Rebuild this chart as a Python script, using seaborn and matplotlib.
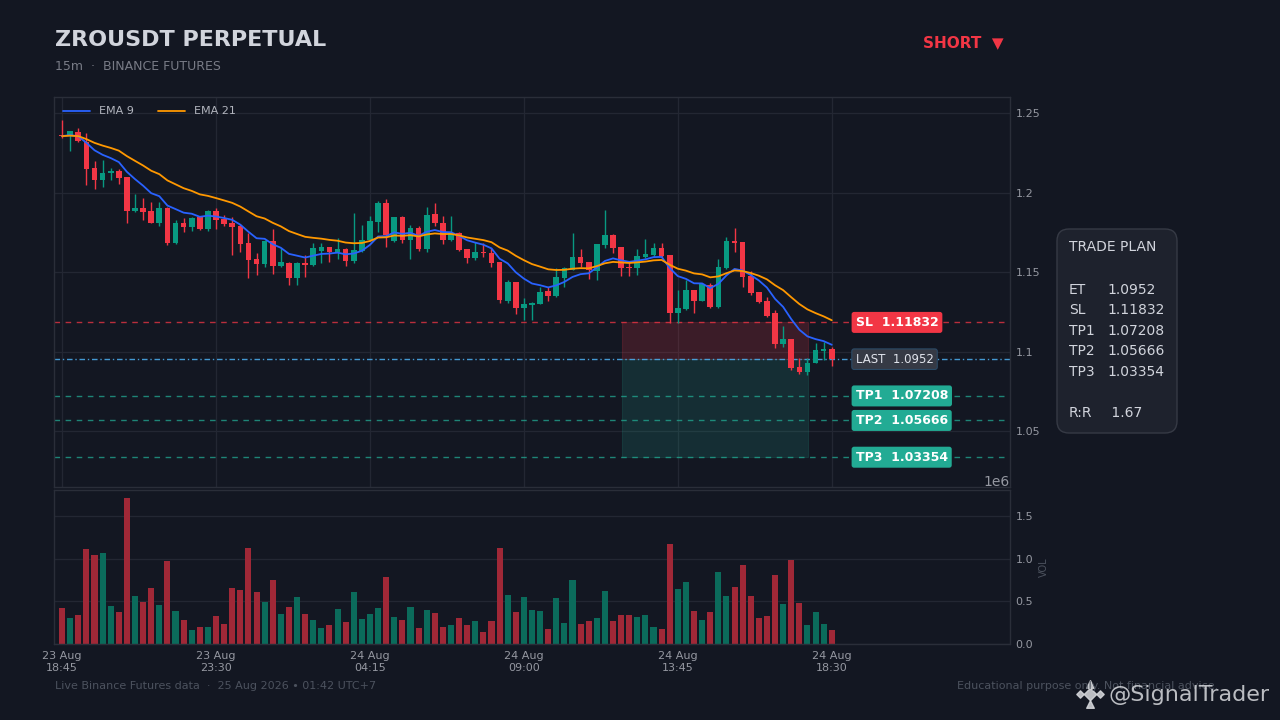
import matplotlib
matplotlib.use("Agg")
import matplotlib.pyplot as plt
from matplotlib.patches import FancyBboxPatch
from matplotlib.ticker import FuncFormatter
import numpy as np
import pandas as pd
import seaborn as sns

# ---- data (15m candles) ----
start_time = "2026-08-23 18:45"
opens = [1.2365, 1.2355, 1.2380, 1.2318, 1.2154, 1.2079, 1.2123, 1.2135, 1.2097, 1.1884,
         1.1902, 1.1884, 1.1808, 1.1902, 1.1682, 1.1808, 1.1783, 1.1846, 1.1770, 1.1884,
         1.1833, 1.1808, 1.1789, 1.1682, 1.1582, 1.1550, 1.1695, 1.1538, 1.1557, 1.1462,
         1.1557, 1.1544, 1.1632, 1.1657, 1.1626, 1.1645, 1.1569, 1.1632, 1.1701, 1.1815,
         1.1934, 1.1695, 1.1846, 1.1701, 1.1777, 1.1645, 1.1865, 1.1808, 1.1701, 1.1745,
         1.1645, 1.1588, 1.1626, 1.1619, 1.1563, 1.1318, 1.1437, 1.1274, 1.1293, 1.1299,
         1.1380, 1.1349, 1.1462, 1.1513, 1.1594, 1.1563, 1.1506, 1.1670, 1.1733, 1.1657,
         1.1531, 1.1525, 1.1594, 1.1607, 1.1651, 1.1607, 1.1242, 1.1267, 1.1387, 1.1318,
         1.1418, 1.1280, 1.1525, 1.1695, 1.1689, 1.1475, 1.1374, 1.1318, 1.1242, 1.1047,
         1.1079, 1.0903, 1.0871, 1.0928, 1.1003, 1.1015]
highs = [1.2455, 1.2390, 1.2406, 1.2374, 1.2198, 1.2204, 1.2154, 1.2148, 1.2100, 1.1991,
         1.1965, 1.1940, 1.1940, 1.1909, 1.1827, 1.1840, 1.1846, 1.1855, 1.1890, 1.1903,
         1.1858, 1.1846, 1.1802, 1.1745, 1.1619, 1.1701, 1.1770, 1.1651, 1.1563, 1.1563,
         1.1607, 1.1682, 1.1682, 1.1660, 1.1714, 1.1651, 1.1871, 1.1796, 1.1852, 1.1947,
         1.1959, 1.1846, 1.1852, 1.1796, 1.1789, 1.1909, 1.1934, 1.1852, 1.1852, 1.1750,
         1.1648, 1.1689, 1.1682, 1.1651, 1.1566, 1.1450, 1.1440, 1.1336, 1.1311, 1.1406,
         1.1406, 1.1525, 1.1531, 1.1745, 1.1645, 1.1566, 1.1676, 1.1890, 1.1739, 1.1660,
         1.1563, 1.1645, 1.1707, 1.1682, 1.1682, 1.1610, 1.1387, 1.1450, 1.1390, 1.1431,
         1.1431, 1.1582, 1.1720, 1.1777, 1.1692, 1.1506, 1.1377, 1.1343, 1.1261, 1.1160,
         1.1082, 1.0959, 1.0959, 1.1053, 1.1060, 1.1028]
lows = [1.2345, 1.2260, 1.2320, 1.2047, 1.2022, 1.2035, 1.2079, 1.2053, 1.1808, 1.1880,
        1.1827, 1.1808, 1.1789, 1.1670, 1.1676, 1.1752, 1.1760, 1.1765, 1.1758, 1.1770,
        1.1790, 1.1607, 1.1626, 1.1462, 1.1481, 1.1531, 1.1487, 1.1531, 1.1418, 1.1418,
        1.1469, 1.1541, 1.1557, 1.1563, 1.1582, 1.1538, 1.1557, 1.1629, 1.1698, 1.1752,
        1.1657, 1.1692, 1.1682, 1.1582, 1.1632, 1.1626, 1.1789, 1.1676, 1.1698, 1.1635,
        1.1557, 1.1575, 1.1594, 1.1531, 1.1305, 1.1305, 1.1236, 1.1198, 1.1198, 1.1296,
        1.1318, 1.1343, 1.1406, 1.1510, 1.1531, 1.1456, 1.1450, 1.1651, 1.1619, 1.1475,
        1.1475, 1.1481, 1.1591, 1.1594, 1.1594, 1.1179, 1.1179, 1.1264, 1.1242, 1.1315,
        1.1277, 1.1277, 1.1522, 1.1626, 1.1406, 1.1355, 1.1305, 1.1217, 1.1022, 1.1028,
        1.0884, 1.0859, 1.0852, 1.0925, 1.0947, 1.0909]
closes = [1.2355, 1.2387, 1.2324, 1.2148, 1.2079, 1.2123, 1.2135, 1.2091, 1.1884, 1.1902,
          1.1877, 1.1808, 1.1902, 1.1682, 1.1808, 1.1783, 1.1840, 1.1770, 1.1884, 1.1827,
          1.1802, 1.1783, 1.1676, 1.1575, 1.1550, 1.1695, 1.1538, 1.1563, 1.1462, 1.1557,
          1.1544, 1.1651, 1.1657, 1.1626, 1.1645, 1.1569, 1.1638, 1.1701, 1.1821, 1.1934,
          1.1733, 1.1846, 1.1701, 1.1777, 1.1645, 1.1859, 1.1808, 1.1701, 1.1745, 1.1638,
          1.1588, 1.1626, 1.1619, 1.1557, 1.1324, 1.1437, 1.1274, 1.1299, 1.1305, 1.1374,
          1.1349, 1.1468, 1.1525, 1.1594, 1.1557, 1.1513, 1.1676, 1.1733, 1.1651, 1.1525,
          1.1525, 1.1601, 1.1613, 1.1651, 1.1601, 1.1242, 1.1274, 1.1387, 1.1318, 1.1425,
          1.1280, 1.1531, 1.1695, 1.1682, 1.1468, 1.1368, 1.1311, 1.1223, 1.1047, 1.1079,
          1.0896, 1.0871, 1.0928, 1.1009, 1.1015, 1.0952]
volumes = [420e3, 310e3, 340e3, 1120e3, 1050e3, 1070e3, 450e3, 380e3, 1720e3, 560e3,
           490e3, 660e3, 460e3, 980e3, 390e3, 280e3, 170e3, 200e3, 200e3, 330e3,
           240e3, 660e3, 640e3, 1130e3, 610e3, 490e3, 750e3, 350e3, 440e3, 550e3,
           350e3, 280e3, 190e3, 220e3, 410e3, 260e3, 610e3, 290e3, 350e3, 420e3,
           790e3, 320e3, 280e3, 440e3, 190e3, 400e3, 360e3, 200e3, 220e3, 310e3,
           220e3, 270e3, 140e3, 270e3, 1130e3, 580e3, 380e3, 550e3, 400e3, 390e3,
           180e3, 540e3, 250e3, 750e3, 240e3, 270e3, 310e3, 620e3, 270e3, 340e3,
           340e3, 320e3, 340e3, 200e3, 180e3, 1180e3, 650e3, 730e3, 390e3, 280e3,
           380e3, 850e3, 560e3, 670e3, 930e3, 560e3, 310e3, 330e3, 810e3, 470e3,
           990e3, 480e3, 220e3, 380e3, 240e3, 170e3]

# trade plan
entry = 1.0952
stop_loss = 1.11832
tp_levels = [1.07208, 1.05666, 1.03354]
tp_names = ["TP1", "TP2", "TP3"]
risk_reward = 1.67

# ---- colours ----
BG = "#131722"
GRID = "#232733"
EDGE = "#2a2e39"
TEXT = "#d1d4dc"
MUTED = "#787b86"
DIM = "#4c525e"
TICK = "#9598a1"
UP = "#089981"
DOWN = "#f23645"
UP_VOL = "#0b6b5b"
DOWN_VOL = "#a02837"
TEAL = "#22ab94"
BLUE = "#2962ff"
ORANGE = "#ff9800"

sns.set_theme(style="dark", rc={
    "figure.facecolor": BG, "axes.facecolor": BG, "axes.edgecolor": EDGE,
    "axes.labelcolor": DIM, "xtick.color": TICK, "ytick.color": TICK,
    "text.color": TEXT, "grid.color": GRID,
})
plt.rcParams["font.family"] = ["DejaVu Sans"]

n = len(closes)
idx = np.arange(n)
o = np.array(opens)
h = np.array(highs)
l = np.array(lows)
c = np.array(closes)
up = c >= o
times = pd.date_range(start_time, periods=n, freq="15min")

ema9 = pd.Series(c).ewm(span=9, adjust=False).mean()
ema21 = pd.Series(c).ewm(span=21, adjust=False).mean()

fig = plt.figure(figsize=(12.8, 7.2), dpi=100)
ax = fig.add_axes([54 / 1280, 1 - 487 / 720, 956 / 1280, 390 / 720])
axv = fig.add_axes([54 / 1280, 1 - 644 / 720, 956 / 1280, 154 / 720], sharex=ax)

# candles
cols = np.where(up, UP, DOWN)
ax.vlines(idx, l, h, colors=cols, lw=1, zorder=3)
body = np.maximum(np.abs(c - o), 0.0006)
ax.bar(idx, body, bottom=np.minimum(o, c), width=0.7, color=cols, lw=0, zorder=4)

sns.lineplot(x=idx, y=ema9, ax=ax, color=BLUE, lw=1.3, label="EMA 9", zorder=5)
sns.lineplot(x=idx, y=ema21, ax=ax, color=ORANGE, lw=1.3, label="EMA 21", zorder=5)

# risk / reward zones
zx = [69.1, 92.1]
ax.fill_between(zx, entry, stop_loss, color=DOWN, alpha=0.18, lw=0.8,
                edgecolor=(0.95, 0.21, 0.27, 0.35), zorder=1)
ax.fill_between(zx, tp_levels[-1], entry, color=TEAL, alpha=0.16, lw=0.8,
                edgecolor=(0.13, 0.67, 0.58, 0.35), zorder=1)

# levels
ax.axhline(stop_loss, color=DOWN, lw=1, ls=(0, (4, 4)), alpha=0.75, zorder=2)
ax.axhline(entry, color="#4aa8e8", lw=1, ls=(0, (4, 2, 1, 2)), alpha=0.9, zorder=2)
for tp in tp_levels:
    ax.axhline(tp, color=TEAL, lw=1, ls=(0, (4, 4)), alpha=0.75, zorder=2)

ytr = ax.get_yaxis_transform()
box = "round,pad=0.32,rounding_size=0.2"
ax.text(0.8385, stop_loss, f"SL  {stop_loss:.5f}", transform=ytr, ha="left", va="center",
        fontsize=9, fontweight="bold", color="white", zorder=6,
        bbox=dict(boxstyle=box, fc=DOWN, ec="none"))
ax.text(0.8385, entry, f"LAST  {entry}", transform=ytr, ha="left", va="center",
        fontsize=8.5, color="#e0e3eb", zorder=6,
        bbox=dict(boxstyle=box, fc="#363a45", ec="#2b4a66", lw=0.8))
for name, tp in zip(tp_names, tp_levels):
    ax.text(0.8385, tp, f"{name}  {tp:.5f}", transform=ytr, ha="left", va="center",
            fontsize=9, fontweight="bold", color="white", zorder=6,
            bbox=dict(boxstyle=box, fc=TEAL, ec="none"))

# volume
vdf = pd.DataFrame({"idx": idx, "vol": volumes, "dir": np.where(up, "up", "down")})
sns.barplot(data=vdf, x="idx", y="vol", hue="dir", palette={"up": UP_VOL, "down": DOWN_VOL},
            dodge=False, native_scale=True, width=0.75, errorbar=None, legend=False,
            saturation=1, linewidth=0, ax=axv)

# axes styling
tick_idx = [0, 19, 38, 57, 76, 95]
ax.set_xlim(-1, 117)
ax.set_ylim(1.0148, 1.2601)
ax.set_yticks([1.05, 1.1, 1.15, 1.2, 1.25])
ax.yaxis.set_major_formatter(FuncFormatter(lambda v, p: f"{v:g}"))
axv.set_xticks(tick_idx, [times[i].strftime("%d %b\n%H:%M") for i in tick_idx])
axv.set_ylim(0, 1.81e6)
axv.set_yticks([0, 0.5e6, 1.0e6, 1.5e6])
ax.set_xlabel("")
ax.set_ylabel("")
axv.set_xlabel("")

for a in (ax, axv):
    a.yaxis.tick_right()
    a.tick_params(length=0, labelsize=8, pad=4)
    for s in a.spines.values():
        s.set_color(EDGE)
        s.set_linewidth(1)
ax.tick_params(labelbottom=False)
axv.tick_params(axis="x", pad=5)
ax.grid(True, color=GRID, lw=0.9)
axv.grid(True, axis="y", color=GRID, lw=0.9)
axv.grid(False, axis="x")
axv.yaxis.set_label_position("right")
axv.set_ylabel("VOL", fontsize=7, color=DIM, labelpad=4)
axv.yaxis.get_offset_text().set_fontsize(10)
axv.yaxis.get_offset_text().set_color(TICK)

leg = ax.legend(loc="upper left", ncol=2, frameon=False, fontsize=8, handlelength=2.4,
                columnspacing=2.2, borderaxespad=0.45)
for t in leg.get_texts():
    t.set_color("#b2b5be")

# header / footer / side panel (overlay in pixel coords)
ov = fig.add_axes([0, 0, 1, 1], zorder=10)
ov.set_xlim(0, 1280)
ov.set_ylim(0, 720)
ov.axis("off")
ov.patch.set_alpha(0)

ov.text(55, 720 - 40, "ZROUSDT PERPETUAL", fontsize=16, fontweight="bold", color=TEXT, va="center")
ov.text(55, 720 - 66, "15m  ·  BINANCE FUTURES", fontsize=9, color=MUTED, va="center")
ov.text(1004, 720 - 43, "SHORT  ▼", fontsize=11, fontweight="bold", color=DOWN, va="center", ha="right")

ov.add_patch(FancyBboxPatch((1057, 720 - 433), 120, 204, boxstyle="round,pad=0,rounding_size=12",
                            fc="#1e222d", ec="#363a45", lw=1))
ov.text(1069, 720 - 247, "TRADE PLAN", fontsize=10, color=TEXT, va="center")
plan_rows = [("ET", f"{entry}", 290), ("SL", f"{stop_loss:.5f}", 310)]
plan_rows += [(nm, f"{tp:.5f}", y) for nm, tp, y in zip(tp_names, tp_levels, [331, 351, 372])]
plan_rows += [("R:R", f" {risk_reward:.2f}", 413)]
for lab, val, y in plan_rows:
    ov.text(1069, 720 - y, lab, fontsize=10, color=TEXT, va="center")
    ov.text(1107, 720 - y, val, fontsize=10, color=TEXT, va="center")

ov.text(55, 720 - 686, "Live Binance Futures data  ·  25 Aug 2026 • 01:42 UTC+7",
        fontsize=8, color=DIM, va="center")
ov.text(1218, 720 - 686, "Educational purpose only. Not financial advice.",
        fontsize=8, color=DIM, va="center", ha="right")

# watermark with a simple diamond logo
lx, ly = 1090, 720 - 694
ov.scatter([lx], [ly], marker="D", s=40, color="#d8dade", alpha=0.85)
ov.scatter([lx - 10, lx + 10], [ly, ly], marker="D", s=14, color="#d8dade", alpha=0.85)
ov.scatter([lx, lx], [ly + 10, ly - 10], marker="^", s=30, color="#d8dade", alpha=0.85)
ov.text(1108, 720 - 695, "@SignalTrader", fontsize=16, color="#d8dade", alpha=0.85, va="center")

fig.savefig("out.png", dpi=100, facecolor=BG)
